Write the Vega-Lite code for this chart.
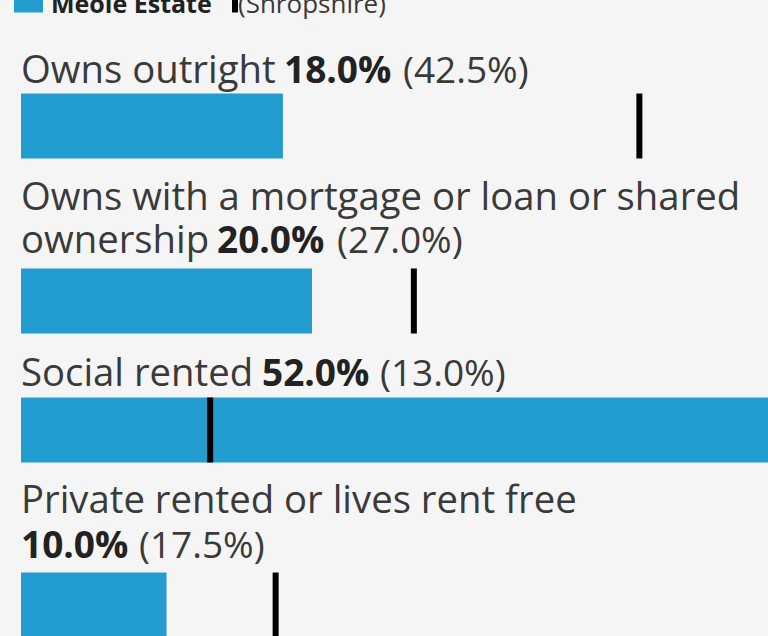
{
  "$schema": "https://vega.github.io/schema/vega-lite/v6.json",
  "background": "#f5f5f5",
  "padding": {"left": 14, "top": -13.5, "right": 0, "bottom": 0},
  "bounds": "flush",
  "spacing": 0,
  "config": {"view": {"stroke": null}},
  "resolve": {"scale": {"fill": "shared", "stroke": "shared"}, "legend": {"fill": "shared", "stroke": "shared"}},
  "data": {"values": [
    {"category": "Owns outright", "label": ["Owns outright"], "meole": 0.18, "shropshire": 0.425, "shropshireText": "(42.5%)"},
    {"category": "Owns with a mortgage or loan or shared ownership", "label": ["Owns with a mortgage or loan or shared", "ownership"], "meole": 0.20, "shropshire": 0.27, "shropshireText": "(27.0%)"},
    {"category": "Social rented", "label": ["Social rented"], "meole": 0.52, "shropshire": 0.13, "shropshireText": "(13.0%)"},
    {"category": "Private rented or lives rent free", "label": ["Private rented or lives rent free"], "meole": 0.10, "shropshire": 0.175, "shropshireText": "(17.5%)"}
  ]},
  "vconcat": [
    {
      "width": 747, "height": 93,
      "transform": [{"filter": "datum.category === 'Owns outright'"}],
      "encoding": {"x": {"datum": 0, "type": "quantitative", "scale": {"domain": [0, 0.5134], "nice": false, "zero": true}, "axis": null}},
      "layer": [
        {"mark": {"type": "text", "align": "left", "baseline": "alphabetic", "dy": 35.5, "font": "Open Sans", "fontSize": 38.3, "color": "#3a3a3a", "lineHeight": 43}, "encoding": {"text": {"field": "label", "type": "nominal"}}},
        {"mark": {"type": "text", "align": "left", "baseline": "alphabetic", "dx": 263, "dy": 35.5, "font": "Open Sans", "fontSize": 37, "fontWeight": "bold", "color": "#222"}, "encoding": {"text": {"field": "meole", "type": "quantitative", "format": ".1%"}}},
        {"mark": {"type": "text", "align": "left", "baseline": "alphabetic", "dx": 382, "dy": 35.5, "font": "Open Sans", "fontSize": 37, "color": "#3a3a3a"}, "encoding": {"text": {"field": "shropshireText", "type": "nominal"}}}
      ]
    },
    {
      "width": 747, "height": 65,
      "transform": [{"filter": "datum.category === 'Owns outright'"}],
      "layer": [
        {"mark": {"type": "bar"}, "encoding": {
          "x": {"field": "meole", "type": "quantitative", "scale": {"domain": [0, 0.5134], "nice": false, "zero": true}, "axis": null},
          "y": {"field": "category", "type": "nominal", "scale": {"paddingInner": 0, "paddingOuter": 0}, "axis": null},
          "fill": {"datum": "Meole Estate", "type": "nominal", "scale": {"range": ["#239cd0"]}, "legend": {"orient": "none", "legendX": -7, "legendY": -10.5, "title": null, "symbolType": "M-1,-1.45H1V0.55H-1Z", "symbolSize": 841, "symbolStrokeWidth": 0, "labelFontSize": 25, "labelFont": "Open Sans", "labelFontWeight": "bold", "labelColor": "#222", "labelOffset": 8, "padding": 0, "labelLimit": 0}}
        }},
        {"mark": {"type": "rule", "strokeWidth": 6}, "encoding": {
          "x": {"field": "shropshire", "type": "quantitative", "scale": {"domain": [0, 0.5134], "nice": false, "zero": true}, "axis": null},
          "stroke": {"datum": "(Shropshire)", "type": "nominal", "scale": {"range": ["#000000"]}, "legend": {"orient": "none", "legendX": 196.5, "legendY": -13.5, "title": null, "symbolType": "M0,-1.45V0.55", "symbolSize": 841, "symbolStrokeWidth": 6, "labelFontSize": 26, "labelFont": "Open Sans", "labelColor": "#3a3a3a", "labelOffset": -14.5, "padding": 0, "labelLimit": 0}}
        }}
      ]
    },
    {
      "width": 747, "height": 110,
      "transform": [{"filter": "datum.category === 'Owns with a mortgage or loan or shared ownership'"}],
      "encoding": {"x": {"datum": 0, "type": "quantitative", "scale": {"domain": [0, 0.5134], "nice": false, "zero": true}, "axis": null}},
      "layer": [
        {"mark": {"type": "text", "align": "left", "baseline": "alphabetic", "dy": -4, "font": "Open Sans", "fontSize": 38.3, "color": "#3a3a3a", "lineHeight": 43}, "encoding": {"text": {"field": "label", "type": "nominal"}}},
        {"mark": {"type": "text", "align": "left", "baseline": "alphabetic", "dx": 196, "dy": 39, "font": "Open Sans", "fontSize": 37, "fontWeight": "bold", "color": "#222"}, "encoding": {"text": {"field": "meole", "type": "quantitative", "format": ".1%"}}},
        {"mark": {"type": "text", "align": "left", "baseline": "alphabetic", "dx": 316, "dy": 39, "font": "Open Sans", "fontSize": 37, "color": "#3a3a3a"}, "encoding": {"text": {"field": "shropshireText", "type": "nominal"}}}
      ]
    },
    {
      "width": 747, "height": 65,
      "transform": [{"filter": "datum.category === 'Owns with a mortgage or loan or shared ownership'"}],
      "layer": [
        {"mark": {"type": "bar"}, "encoding": {
          "x": {"field": "meole", "type": "quantitative", "scale": {"domain": [0, 0.5134], "nice": false, "zero": true}, "axis": null},
          "y": {"field": "category", "type": "nominal", "scale": {"paddingInner": 0, "paddingOuter": 0}, "axis": null},
          "fill": {"datum": "Meole Estate", "type": "nominal"}
        }},
        {"mark": {"type": "rule", "strokeWidth": 6}, "encoding": {
          "x": {"field": "shropshire", "type": "quantitative", "scale": {"domain": [0, 0.5134], "nice": false, "zero": true}, "axis": null},
          "stroke": {"datum": "(Shropshire)", "type": "nominal"}
        }}
      ]
    },
    {
      "width": 747, "height": 64,
      "transform": [{"filter": "datum.category === 'Social rented'"}],
      "encoding": {"x": {"datum": 0, "type": "quantitative", "scale": {"domain": [0, 0.5134], "nice": false, "zero": true}, "axis": null}},
      "layer": [
        {"mark": {"type": "text", "align": "left", "baseline": "alphabetic", "dy": 20, "font": "Open Sans", "fontSize": 38.3, "color": "#3a3a3a", "lineHeight": 43}, "encoding": {"text": {"field": "label", "type": "nominal"}}},
        {"mark": {"type": "text", "align": "left", "baseline": "alphabetic", "dx": 241, "dy": 20, "font": "Open Sans", "fontSize": 37, "fontWeight": "bold", "color": "#222"}, "encoding": {"text": {"field": "meole", "type": "quantitative", "format": ".1%"}}},
        {"mark": {"type": "text", "align": "left", "baseline": "alphabetic", "dx": 359, "dy": 20, "font": "Open Sans", "fontSize": 37, "color": "#3a3a3a"}, "encoding": {"text": {"field": "shropshireText", "type": "nominal"}}}
      ]
    },
    {
      "width": 747, "height": 65,
      "transform": [{"filter": "datum.category === 'Social rented'"}],
      "layer": [
        {"mark": {"type": "bar"}, "encoding": {
          "x": {"field": "meole", "type": "quantitative", "scale": {"domain": [0, 0.5134], "nice": false, "zero": true}, "axis": null},
          "y": {"field": "category", "type": "nominal", "scale": {"paddingInner": 0, "paddingOuter": 0}, "axis": null},
          "fill": {"datum": "Meole Estate", "type": "nominal"}
        }},
        {"mark": {"type": "rule", "strokeWidth": 6}, "encoding": {
          "x": {"field": "shropshire", "type": "quantitative", "scale": {"domain": [0, 0.5134], "nice": false, "zero": true}, "axis": null},
          "stroke": {"datum": "(Shropshire)", "type": "nominal"}
        }}
      ]
    },
    {
      "width": 747, "height": 110,
      "transform": [{"filter": "datum.category === 'Private rented or lives rent free'"}],
      "encoding": {"x": {"datum": 0, "type": "quantitative", "scale": {"domain": [0, 0.5134], "nice": false, "zero": true}, "axis": null}},
      "layer": [
        {"mark": {"type": "text", "align": "left", "baseline": "alphabetic", "dy": -5, "font": "Open Sans", "fontSize": 38.3, "color": "#3a3a3a", "lineHeight": 45}, "encoding": {"text": {"field": "label", "type": "nominal"}}},
        {"mark": {"type": "text", "align": "left", "baseline": "alphabetic", "dx": 0, "dy": 40, "font": "Open Sans", "fontSize": 37, "fontWeight": "bold", "color": "#222"}, "encoding": {"text": {"field": "meole", "type": "quantitative", "format": ".1%"}}},
        {"mark": {"type": "text", "align": "left", "baseline": "alphabetic", "dx": 118, "dy": 40, "font": "Open Sans", "fontSize": 37, "color": "#3a3a3a"}, "encoding": {"text": {"field": "shropshireText", "type": "nominal"}}}
      ]
    },
    {
      "width": 747, "height": 65,
      "transform": [{"filter": "datum.category === 'Private rented or lives rent free'"}],
      "layer": [
        {"mark": {"type": "bar"}, "encoding": {
          "x": {"field": "meole", "type": "quantitative", "scale": {"domain": [0, 0.5134], "nice": false, "zero": true}, "axis": null},
          "y": {"field": "category", "type": "nominal", "scale": {"paddingInner": 0, "paddingOuter": 0}, "axis": null},
          "fill": {"datum": "Meole Estate", "type": "nominal"}
        }},
        {"mark": {"type": "rule", "strokeWidth": 6}, "encoding": {
          "x": {"field": "shropshire", "type": "quantitative", "scale": {"domain": [0, 0.5134], "nice": false, "zero": true}, "axis": null},
          "stroke": {"datum": "(Shropshire)", "type": "nominal"}
        }}
      ]
    }
  ]
}
